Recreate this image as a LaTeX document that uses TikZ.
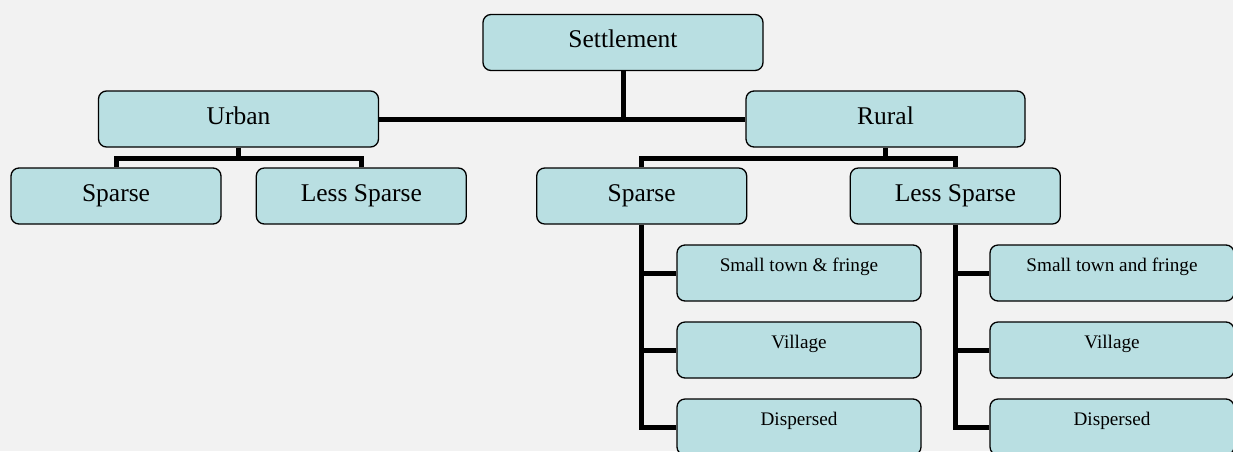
\documentclass[tikz,border=0pt]{standalone}
\usepackage{fontspec}
\setmainfont{Liberation Serif}
\definecolor{bg}{HTML}{F2F2F2}
\definecolor{boxfill}{HTML}{B9DFE2}
\begin{document}
\begin{tikzpicture}[x=1pt,y=-1pt,
  box/.style={draw=black, line width=1.3pt, fill=boxfill, rounded corners=8pt,
    minimum height=56pt, inner sep=0pt},
  big/.style={box, font=\fontsize{25.5}{30}\selectfont, text height=10pt, text depth=0pt},
  small/.style={box, font=\fontsize{19.2}{23}\selectfont, text height=0pt, text depth=2.6pt,
    minimum width=244pt},
  conn/.style={line width=5pt, line join=miter}]
\useasboundingbox (0,0) rectangle (1233,451);
\fill[bg] (0,0) rectangle (1233,451);
\clip (0,0) rectangle (1233,451);

\node[big, minimum width=280pt] (settle) at (623,42.5) {Settlement};
\node[big, minimum width=280pt] (urban) at (238.5,119) {Urban};
\node[big, minimum width=279pt] (rural) at (885.5,119) {Rural};
\node[big, minimum width=210pt] (usparse) at (116,196) {Sparse};
\node[big, minimum width=210pt] (uless) at (361.3,196) {Less Sparse};
\node[big, minimum width=210pt] (rsparse) at (641.7,196) {Sparse};
\node[big, minimum width=210pt] (rless) at (955.3,196) {Less Sparse};

\node[small] (s1) at (799,273) {Small town \& fringe};
\node[small] (s2) at (799,350) {Village};
\node[small] (s3) at (799,427) {Dispersed};
\node[small] (l1) at (1112,273) {Small town and fringe};
\node[small] (l2) at (1112,350) {Village};
\node[small] (l3) at (1112,427) {Dispersed};

\draw[conn] (urban.east) -- (rural.west);
\draw[conn] (settle.south) -- (settle.south |- urban.east);

\draw[conn] (urban.south) -- ++(0,10.5) coordinate (uj);
\draw[conn] (usparse.north) |- (uj) -| (uless.north);
\draw[conn] (rural.south) -- ++(0,10.5) coordinate (rj);
\draw[conn] (rsparse.north) |- (rj) -| (rless.north);

\draw[conn] (rsparse.south) |- (s3.west);
\draw[conn] (s1.west) -- (s1.west -| rsparse.south);
\draw[conn] (s2.west) -- (s2.west -| rsparse.south);
\draw[conn] (rless.south) |- (l3.west);
\draw[conn] (l1.west) -- (l1.west -| rless.south);
\draw[conn] (l2.west) -- (l2.west -| rless.south);
\end{tikzpicture}
\end{document}
